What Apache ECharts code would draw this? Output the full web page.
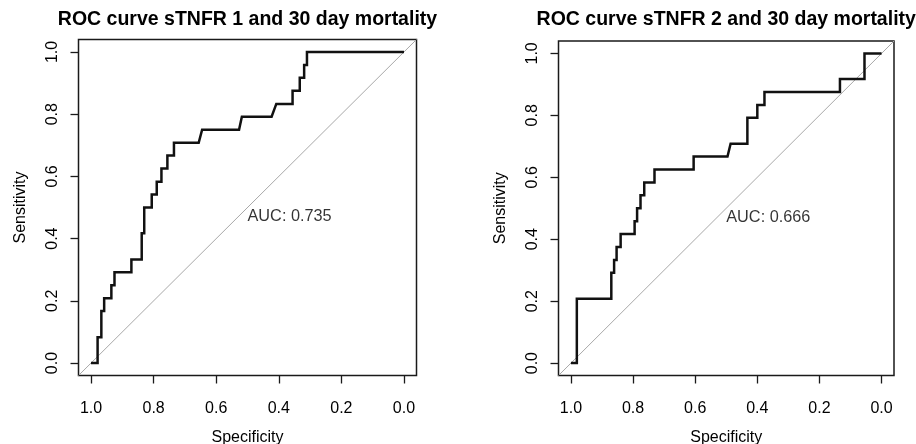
<!DOCTYPE html>
<html>
<head>
<meta charset="utf-8">
<script src="https://cdn.jsdelivr.net/npm/echarts@6/dist/echarts.min.js"></script>
<style>
  html, body { margin: 0; padding: 0; background: #fff; }
  #chart { width: 916px; height: 444px; }
</style>
</head>
<body>
<div id="chart"></div>
<script>
// ROC curves (specificity on a reversed x axis, sensitivity on y)
const titles = ['ROC curve sTNFR 1 and 30 day mortality', 'ROC curve sTNFR 2 and 30 day mortality'];
const aucLabels = ['AUC: 0.735', 'AUC: 0.666'];
const tickValues = [0, 0.2, 0.4, 0.6, 0.8, 1.0];
const tickLabels = ['0.0', '0.2', '0.4', '0.6', '0.8', '1.0'];

// sTNFR 1 curve vertices
const spec1 = [1.0, 0.979, 0.979, 0.967, 0.967, 0.958, 0.958, 0.935, 0.935, 0.925, 0.925, 0.871, 0.871,
  0.838, 0.838, 0.830, 0.830, 0.806, 0.806, 0.790, 0.790, 0.775, 0.775, 0.756, 0.756, 0.735, 0.735,
  0.656, 0.645, 0.527, 0.518, 0.423, 0.408, 0.356, 0.356, 0.333, 0.333, 0.319, 0.319, 0.310, 0.310, 0.0];
const sens1 = [0, 0, 0.083, 0.083, 0.167, 0.167, 0.208, 0.208, 0.25, 0.25, 0.292, 0.292, 0.333,
  0.333, 0.417, 0.417, 0.5, 0.5, 0.542, 0.542, 0.583, 0.583, 0.625, 0.625, 0.667, 0.667, 0.708,
  0.708, 0.75, 0.75, 0.792, 0.792, 0.833, 0.833, 0.875, 0.875, 0.917, 0.917, 0.958, 0.958, 1.0, 1.0];

// sTNFR 2 curve vertices
const spec2 = [1.0, 0.981, 0.981, 0.870, 0.870, 0.861, 0.861, 0.853, 0.853, 0.840, 0.840, 0.795, 0.795,
  0.787, 0.787, 0.776, 0.776, 0.764, 0.764, 0.731, 0.731, 0.605, 0.605, 0.496, 0.486, 0.432, 0.432,
  0.400, 0.400, 0.377, 0.377, 0.134, 0.134, 0.055, 0.055, 0.0];
const sens2 = [0, 0, 0.208, 0.208, 0.292, 0.292, 0.333, 0.333, 0.375, 0.375, 0.417, 0.417, 0.458,
  0.458, 0.5, 0.5, 0.542, 0.542, 0.583, 0.583, 0.625, 0.625, 0.667, 0.667, 0.708, 0.708, 0.792,
  0.792, 0.833, 0.833, 0.875, 0.875, 0.917, 0.917, 1.0, 1.0];

const curves = [
  spec1.map((s, i) => [s, sens1[i]]),
  spec2.map((s, i) => [s, sens2[i]])
];

const FONT = '"Liberation Sans", Arial, Helvetica, sans-serif';
const INK = '#000';

const grids = [
  { left: 78.5, top: 39.5, width: 338, height: 336 },
  { left: 558.5, top: 41, width: 335.5, height: 334.5 }
];

function axisCommon() {
  return {
    min: -0.04,
    max: 1.04,
    axisLine: { show: false, onZero: false },
    splitLine: { show: false },
    axisTick: {
      show: true, inside: false, length: 8,
      customValues: tickValues,
      lineStyle: { color: '#1a1a1a', width: 1.3 }
    },
    axisLabel: {
      show: true,
      customValues: tickValues,
      formatter: v => tickLabels[tickValues.findIndex(t => Math.abs(t - v) < 1e-9)],
      color: INK, fontFamily: FONT, fontSize: 16
    },
    nameLocation: 'middle',
    nameMoveOverlap: false,
    nameTextStyle: { color: INK, fontFamily: FONT, fontSize: 16 }
  };
}

const xAxes = grids.map((g, i) => {
  const a = axisCommon();
  a.type = 'value';
  a.gridIndex = i;
  a.position = 'bottom';
  a.inverse = true;
  a.name = 'Specificity';
  a.nameGap = 54;
  a.axisLabel.margin = 25;
  return a;
});

const yAxes = grids.map((g, i) => {
  const a = axisCommon();
  a.type = 'value';
  a.gridIndex = i;
  a.position = 'left';
  a.name = 'Sensitivity';
  a.nameGap = 50;
  a.axisLabel.rotate = 90;
  a.axisLabel.margin = 18;
  return a;
});

const series = [];
curves.forEach((data, i) => {
  series.push({
    type: 'line', xAxisIndex: i, yAxisIndex: i,
    data: [[1.04, -0.04], [-0.04, 1.04]],
    showSymbol: false, silent: true, z: 1,
    lineStyle: { color: '#a8a8a8', width: 1 }
  });
  series.push({
    type: 'line', xAxisIndex: i, yAxisIndex: i,
    data: data,
    showSymbol: false, silent: true, z: 3,
    lineStyle: { color: '#111', width: 2.5, join: 'miter' }
  });
  series.push({
    type: 'scatter', xAxisIndex: i, yAxisIndex: i,
    data: [[0.5, 0.5]],
    symbolSize: 0, silent: true, z: 4,
    label: {
      show: true, formatter: aucLabels[i],
      position: [0, 1], align: 'left', verticalAlign: 'top',
      color: INK, fontFamily: FONT, fontSize: 16.3
    }
  });
});

// panel titles, centred over each plot box
const titleGraphics = grids.map((g, i) => ({
  type: 'text',
  x: g.left + g.width / 2,
  y: 20,
  silent: true,
  style: {
    text: titles[i],
    align: 'center', verticalAlign: 'middle',
    fill: '#000', fontFamily: FONT, fontSize: 19.5, fontWeight: 'bold'
  }
}));

const option = {
  backgroundColor: '#fff',
  animation: false,
  graphic: titleGraphics,
  grid: grids.map(g => Object.assign({
    show: true, borderColor: '#1a1a1a', borderWidth: 1.5, backgroundColor: 'transparent',
    containLabel: false, outerBoundsMode: 'none'
  }, g)),
  xAxis: xAxes,
  yAxis: yAxes,
  series: series
};

const chart = echarts.init(document.getElementById('chart'), null, { renderer: 'canvas' });
chart.setOption(option);
</script>
</body>
</html>
